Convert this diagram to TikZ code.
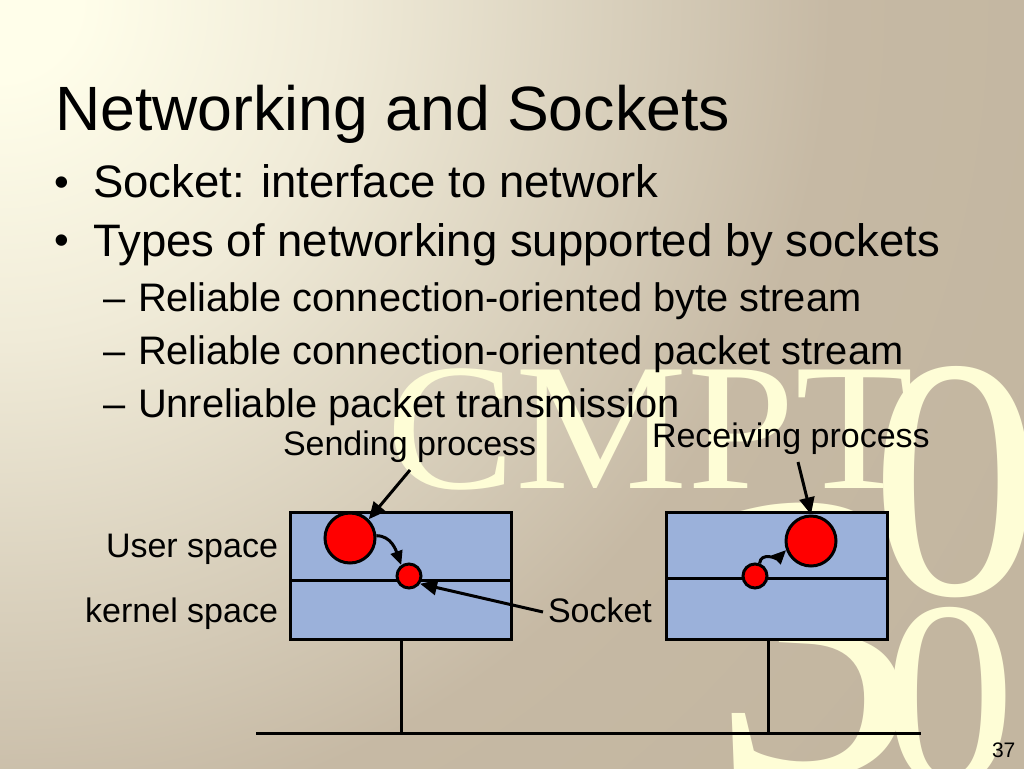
\documentclass[tikz,border=0pt]{standalone}
\usepackage{fontspec}
\usepackage{graphicx}
\setmainfont{Liberation Sans}
\newfontfamily\wmfont{Liberation Serif}
\usetikzlibrary{arrows.meta}
\definecolor{bgA}{HTML}{FFFEEA}
\definecolor{bgB}{HTML}{F0EBD8}
\definecolor{bgC}{HTML}{D3C9B5}
\definecolor{bgD}{HTML}{C6B9A4}
\definecolor{bgE}{HTML}{C3B6A0}
\definecolor{wmcol}{HTML}{FEFDD6}
\definecolor{boxfill}{HTML}{9BB1DA}
\pgfdeclareradialshading{bgshade}{\pgfpoint{0bp}{0bp}}{color(0bp)=(bgA); color(1.5bp)=(bgA); color(6.5bp)=(bgB); color(13bp)=(bgC); color(16bp)=(bgD); color(22bp)=(bgE); color(50bp)=(bgE)}
\tikzset{
  txt/.style={inner sep=0pt, outer sep=0pt, anchor=base west},
  titlefont/.style={font=\fontsize{62.6}{70}\selectfont},
  lvlone/.style={font=\fontsize{45.5}{50}\selectfont},
  lvltwo/.style={font=\fontsize{39.8}{45}\selectfont},
  lbl/.style={font=\fontsize{34}{38}\selectfont},
  bulletfont/.style={font=\fontsize{42}{46}\selectfont},
  wm/.style={text=wmcol, inner sep=0pt, outer sep=0pt},
  layerbox/.style={draw=black, line width=3pt, fill=boxfill, minimum width=221pt, minimum height=127pt, inner sep=0pt},
  bigproc/.style={circle, draw=black, line width=3pt, fill=red, minimum size=50pt, inner sep=0pt},
  sockc/.style={circle, draw=black, line width=3pt, fill=red, minimum size=24pt, inner sep=0pt},
  wire/.style={line width=3pt},
  ptr/.style={line width=3pt, -{Triangle[length=17pt,width=15pt]}},
  smallptr/.style={line width=3pt, -{Triangle[length=14pt,width=12pt]}},
}
\begin{document}
\begin{tikzpicture}[x=1pt,y=-1pt]
\useasboundingbox (0,0) rectangle (1024,768);
\begin{scope}
  \clip (0,0) rectangle (1024,768);
  \shade[shading=bgshade] (0,0) circle[radius=1300];
  % watermark
  \node[wm, anchor=base west, font=\wmfont\fontsize{181}{181}\selectfont] (wmA) at (386,488) {\scalebox{1.07}[1]{CMPT}};
  \node[wm, anchor=base, font=\wmfont\fontsize{343}{343}\selectfont] (wmB) at (956,594) {0};
  \node[wm, anchor=base, font=\wmfont\fontsize{410}{410}\selectfont] (wmC) at (815,774) {3};
  \node[wm, anchor=base, font=\wmfont\fontsize{265}{265}\selectfont] (wmD) at (950,783) {0};
\end{scope}

% title and bullets
\node[txt, titlefont] (title) at (55,130) {Networking and Sockets};
\node[txt, bulletfont] (b1) at (54.5,196) {\textbullet};
\node[txt, lvlone] (t1) at (93,197) {Socket: interface to network};
\node[txt, bulletfont] (b2) at (54.5,254) {\textbullet};
\node[txt, lvlone] (t2) at (93,256) {Types of networking supported by sockets};
\node[txt, lvltwo] (d1) at (103,311) {–};
\node[txt, lvltwo] (s1) at (138,311) {Reliable connection-oriented byte stream};
\node[txt, lvltwo] (d2) at (103,364) {–};
\node[txt, lvltwo] (s2) at (138,364) {Reliable connection-oriented packet stream};
\node[txt, lvltwo] (d3) at (103,417) {–};
\node[txt, lvltwo] (s3) at (138,417) {Unreliable packet transmission};

% labels
\node[txt, lbl] (sendlbl) at (283,455) {Sending process};
\node[txt, lbl] (recvlbl) at (652,447) {Receiving process};
\node[txt, lbl, anchor=base east] (userlbl) at (278,557) {User space};
\node[txt, lbl, anchor=base east] (kernlbl) at (278,622) {kernel space};
\node[txt, lbl] (socklbl) at (548,622) {Socket};
\node[txt, font=\fontsize{21}{24}\selectfont] (pageno) at (992,757) {37};

% network
\coordinate (busL) at (256,733);
\coordinate (busR) at (921,733);
\coordinate (tapL) at (401,733);
\coordinate (tapR) at (768,733);
\draw[wire] (busL) -- (busR);

% boxes
\node[layerbox] (boxL) at (400.5,575.5) {};
\node[layerbox] (boxR) at (776.5,575.5) {};
\coordinate (divLa) at (290,580);
\coordinate (divLb) at (511,580);
\coordinate (divRa) at (666,578);
\coordinate (divRb) at (887,578);
\draw[wire] (divLa) -- (divLb);
\draw[wire] (divRa) -- (divRb);
\draw[wire] (tapL |- boxL.south) -- (tapL);
\draw[wire] (tapR |- boxR.south) -- (tapR);

% processes and sockets
\node[bigproc] (procL) at (350,538) {};
\node[sockc] (sockL) at (409,576) {};
\node[bigproc] (procR) at (811,541) {};
\node[sockc] (sockR) at (755,576) {};

% arrows
\coordinate (sendtail) at (410,470);
\coordinate (recvtail) at (798,462);
\coordinate (socktail) at (543,612);
\draw[ptr] (sendtail) -- (procL.45);
\draw[ptr] (recvtail) -- (procR.north);
\draw[ptr] (socktail) -- (sockL.-35);
\draw[smallptr] (procL.5) to[out=0,in=110] (sockL.125);
\draw[smallptr] (sockR.70) to[out=85,in=225] (procR.200);
\end{tikzpicture}
\end{document}
